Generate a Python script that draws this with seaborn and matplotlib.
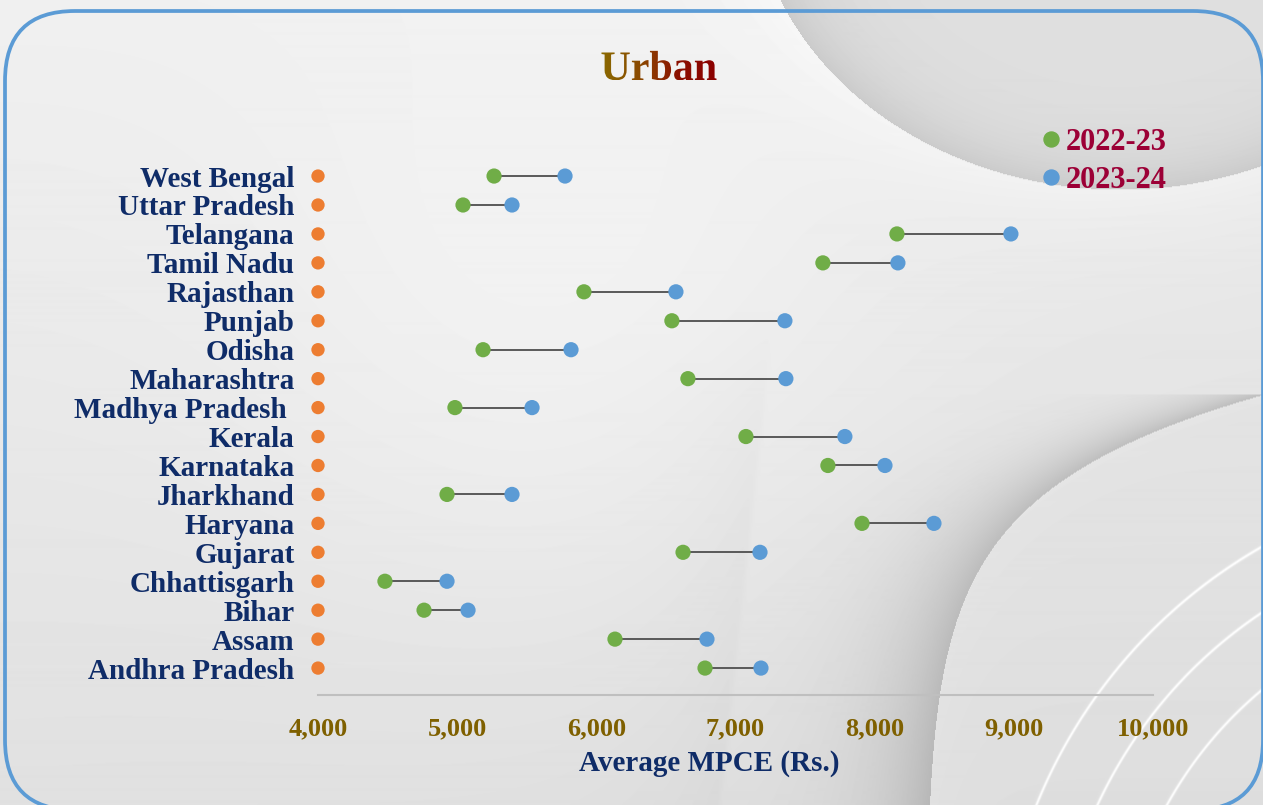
import numpy as np
import pandas as pd
import matplotlib.pyplot as plt
import seaborn as sns
from matplotlib.patches import FancyBboxPatch, PathPatch
from matplotlib.textpath import TextPath
from matplotlib.path import Path
from matplotlib.font_manager import FontProperties
from matplotlib.colors import LinearSegmentedColormap
from matplotlib.lines import Line2D
from matplotlib.ticker import FuncFormatter

sns.set_theme(style="white")
plt.rcParams["font.family"] = ["Liberation Serif", "DejaVu Serif"]

# ------------------------------------------------------------------
# DATA (Average MPCE, urban, Rs.)
# ------------------------------------------------------------------
states = ["West Bengal", "Uttar Pradesh", "Telangana", "Tamil Nadu", "Rajasthan",
          "Punjab", "Odisha", "Maharashtra", "Madhya Pradesh ", "Kerala",
          "Karnataka", "Jharkhand", "Haryana", "Gujarat", "Chhattisgarh",
          "Bihar", "Assam", "Andhra Pradesh"]
mpce_2022 = [5265, 5042, 8160, 7628, 5911, 6543, 5186, 6658, 4984, 7075,
             7664, 4927, 7909, 6623, 4481, 4762, 6134, 6781]
mpce_2023 = [5775, 5394, 8979, 8167, 6572, 7355, 5818, 7362, 5538, 7786,
             8074, 5394, 8426, 7176, 4927, 5078, 6795, 7183]
x_ticks = [4000, 5000, 6000, 7000, 8000, 9000, 10000]
baseline = 4000

GREEN = "#70AD47"
BLUE = "#5B9BD5"
ORANGE = "#ED7D31"
NAVY = "#0F2C68"
GOLD = "#7F6000"
CRIMSON = "#9C0036"

df = pd.DataFrame({"State": states, "2022-23": mpce_2022, "2023-24": mpce_2023})
df["pos"] = np.arange(len(df))[::-1]
long_df = df.melt(id_vars=["State", "pos"], value_vars=["2022-23", "2023-24"],
                  var_name="Year", value_name="MPCE")

W, H = 1263, 805
fig = plt.figure(figsize=(W / 100, H / 100), dpi=100)

# ------------------------------------------------------------------
# Decorative background (soft grey swirls), pixel grid top-down
# ------------------------------------------------------------------
bg = fig.add_axes([0, 0, 1, 1], zorder=-10)
X, Y = np.meshgrid(np.arange(W, dtype=float), np.arange(H, dtype=float))
img = 0.925 - 0.06 * (Y / H) + 0.015 * (1 - X / W)
# big bright area in the middle-left
img += 0.035 * np.exp(-(((X - 560) / 330.0) ** 2 + ((Y - 330) / 330.0) ** 2))

# faint ridge in the lower middle (soft)
ridge_x = 775 - 55 * np.clip((Y - 300) / 505.0, 0, 1)
rd = X - ridge_x
ramp = 0.5 + 0.5 * np.tanh((Y - 380) / 60.0)
img -= 0.02 * np.exp(np.minimum(rd, 0) / 70.0) * (0.5 - 0.5 * np.tanh(rd / 3.0)) * ramp

# top-right grey blob with shadowed rim
r = np.sqrt(((X - 1120) / 369.0) ** 2 + ((Y + 120) / 310.0) ** 2)
s = (r - 1.0) * 320
inside = 0.875 - 0.08 * np.exp(s / 35.0)
outside = img + 0.03 * np.exp(-s / 50.0)
img = np.where(s < 0, inside, outside)

# right-bottom valley with shadow on its left side
xc = 925 + 338 * np.exp(-(Y - 395) / 95.0)
dx = X - xc
valley = Y >= 395
shadow = 0.15 * np.exp(np.minimum(dx, 0) / 60.0) * valley * (dx < 0)
img = img - shadow
right_zone = valley & (dx >= 0)
img = np.where(right_zone, 0.89 - 0.02 * (Y - 400) / 400 + 0.012 * np.exp(-dx / 30.0), img)

# white arcs in the bottom-right corner
rr = np.sqrt((X - 1520) ** 2 + (Y - 1000) ** 2)
for rad in (522, 466, 404):
    img += 0.12 * np.exp(-((rr - rad) / 1.4) ** 2) * right_zone

img = np.clip(img, 0, 1)
bg.imshow(img, cmap="gray", vmin=0, vmax=1, extent=[0, W, 0, H], origin="upper",
          aspect="auto", interpolation="bilinear")
bg.set_xlim(0, W)
bg.set_ylim(0, H)
bg.axis("off")

# rounded frame
border = FancyBboxPatch((5, H - 810), 1258, 799, boxstyle="round,pad=0,rounding_size=70",
                        transform=bg.transData, fill=False, edgecolor=BLUE,
                        linewidth=2.7, clip_on=False, zorder=4)
bg.add_patch(border)

# Gradient title "Urban"
fp = FontProperties(family="Liberation Serif", weight="bold")
tp = TextPath((0, 0), "Urban", size=42, prop=fp)
ext = tp.get_extents()
tw = ext.width
cx, base_y = 659, H - 80
verts = tp.vertices.copy()
verts[:, 0] = verts[:, 0] - ext.x0 - tw / 2 + cx
verts[:, 1] = verts[:, 1] + base_y
patch = PathPatch(Path(verts, tp.codes), facecolor="none", edgecolor="none",
                  transform=bg.transData)
bg.add_patch(patch)
title_cmap = LinearSegmentedColormap.from_list("title", ["#8A6A00", "#8B4A00", "#8B1000", "#8B0000"])
gi = bg.imshow(np.linspace(0, 1, 256).reshape(1, -1), cmap=title_cmap,
               extent=[cx - tw / 2, cx + tw / 2, base_y + ext.y0, base_y + ext.y1],
               aspect="auto", zorder=5)
gi.set_clip_path(patch)
bg.set_xlim(0, W)
bg.set_ylim(0, H)

# ------------------------------------------------------------------
# Dumbbell chart
# ------------------------------------------------------------------
ax = fig.add_axes([318 / W, 1 - 695 / H, 835 / W, (695 - 150) / H])
ax.set_facecolor("none")

ax.hlines(df["pos"], df["2022-23"], df["2023-24"], color="#595959", linewidth=1.4, zorder=2)
sns.scatterplot(data=long_df, x="MPCE", y="pos", hue="Year",
                palette={"2022-23": GREEN, "2023-24": BLUE}, s=120,
                edgecolor="none", ax=ax, zorder=3, clip_on=False, legend=False)
ax.scatter([baseline] * len(df), df["pos"], s=92, color=ORANGE, edgecolor="none",
           zorder=3, clip_on=False)

ax.set_xlim(4000, 10000)
ax.set_ylim(-0.93, 17.9)
ax.set_yticks(df["pos"])
ax.set_yticklabels(df["State"], fontsize=21, fontweight="bold", color=NAVY)
ax.set_xticks(x_ticks)
ax.xaxis.set_major_formatter(FuncFormatter(lambda v, p: f"{int(v):,}"))
ax.tick_params(axis="y", length=0, pad=17)
ax.tick_params(axis="x", length=0, pad=16, labelsize=19, labelcolor=GOLD)
for lab in ax.get_xticklabels():
    lab.set_fontweight("bold")
ax.set_xlabel("Average MPCE (Rs.)", fontsize=21, fontweight="bold", color=NAVY)
ax.xaxis.set_label_coords((709 - 318) / 835, -(763 - 695) / 545, transform=ax.transAxes)
ax.xaxis.label.set_va("center")
ax.set_ylabel("")
for side in ("top", "right", "left"):
    ax.spines[side].set_visible(False)
ax.spines["bottom"].set_color("#BFBFBF")
ax.spines["bottom"].set_linewidth(1.5)

# Legend
handles = [Line2D([], [], marker="o", linestyle="none", markersize=10.8, color=GREEN),
           Line2D([], [], marker="o", linestyle="none", markersize=10.8, color=BLUE)]
leg = fig.legend(handles, ["2022-23", "2023-24"], loc="upper left",
                 bbox_to_anchor=(1040 / W, 1 - 128 / H), frameon=False,
                 borderpad=0, borderaxespad=0,
                 handletextpad=0.15, labelspacing=0.3, handlelength=0.7,
                 prop={"family": "Liberation Serif", "weight": "bold", "size": 22})
for t in leg.get_texts():
    t.set_color(CRIMSON)

fig.savefig("out.png", dpi=100)
